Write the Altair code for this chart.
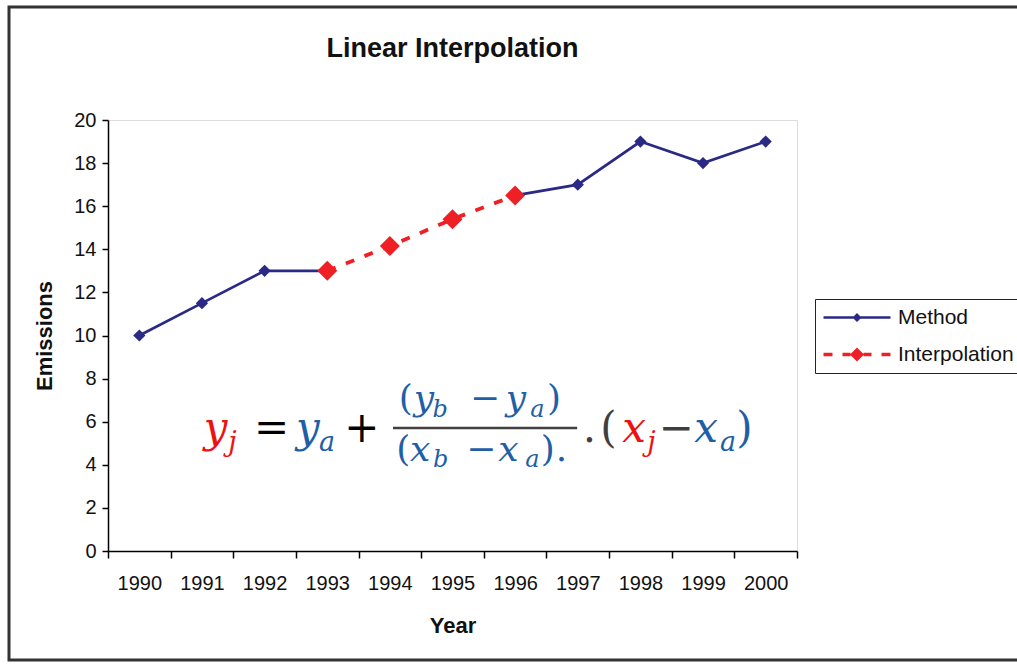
import altair as alt
import pandas as pd

# ---- data -------------------------------------------------------------
years = list(range(1990, 2001))
method_values = [10, 11.5, 13, 13, None, None, 16.5, 17, 19, 18, 19]
method_segment = ["a", "a", "a", "a", None, None, "b", "b", "b", "b", "b"]

interp_years = [1993, 1994, 1995, 1996]
interp_values = [13, 14.15, 15.4, 16.5]

series_names = ["Method", "Interpolation"]
series_colors = ["#2a2a86", "#ee2026"]
y_ticks = list(range(0, 21, 2))

# ---- formula pieces (year / emission units) ---------------------------
RED, BLUE, BLACK, GRAY = "#ee1111", "#1f5fa6", "#000000", "#3f3f3f"
f_text = ["y", "j", "=", "y", "a", "+",
          "(", "y", "b", "\u2212", "y", "a", ")",
          "(", "x", "b", "\u2212", "x", "a", ")", ".",
          ".", "(", "x", "j", "\u2212", "x", "a", ")"]
f_x = [1991.03, 1991.42, 1991.83, 1992.50, 1992.87, 1993.27,
       1994.14, 1994.38, 1994.68, 1995.28, 1995.85, 1996.24, 1996.51,
       1994.10, 1994.32, 1994.69, 1995.22, 1995.73, 1996.16, 1996.41, 1996.65,
       1997.08, 1997.36, 1997.71, 1998.11, 1998.29, 1998.86, 1999.27, 1999.53]
f_y = [5.06, 4.64, 5.06, 5.06, 4.64, 5.06,
       6.54, 6.54, 6.22, 6.54, 6.54, 6.22, 6.54,
       4.18, 4.18, 3.90, 4.18, 4.18, 3.90, 4.18, 4.18,
       5.06, 5.06, 5.06, 4.64, 5.06, 5.06, 4.64, 5.06]
f_size = [42, 27, 42, 42, 27, 42,
          36, 36, 24, 36, 36, 24, 36,
          36, 36, 24, 36, 36, 24, 36, 36,
          42, 42, 42, 27, 42, 42, 27, 42]
f_color = [RED, RED, BLACK, BLUE, BLUE, BLACK,
           BLUE, BLUE, BLUE, BLUE, BLUE, BLUE, BLUE,
           BLUE, BLUE, BLUE, BLUE, BLUE, BLUE, BLUE, BLUE,
           GRAY, GRAY, RED, RED, GRAY, BLUE, BLUE, BLUE]
f_italic = [True, True, False, True, True, False,
            False, True, True, False, True, True, False,
            False, True, True, False, True, True, False, False,
            False, False, True, True, False, True, True, False]
bar_x = [1994.05]
bar_x2 = [1996.99]
bar_y = [5.71]

# ---- frames -----------------------------------------------------------
method_rows = [{"year": yr, "value": v, "seg": s}
               for yr, v, s in zip(years, method_values, method_segment) if v is not None]
method_df = pd.DataFrame(method_rows)
interp_df = pd.DataFrame({"year": interp_years, "value": interp_values})
legend_df = pd.DataFrame({"series": series_names})

formula_df = pd.DataFrame({"t": f_text, "fx": f_x, "fy": f_y, "fs": f_size,
                           "col": f_color, "it": f_italic})
bar_df = pd.DataFrame({"x": bar_x, "x2": bar_x2, "y": bar_y})

PLOT_W, PLOT_H = 689, 431
band = PLOT_W / 11

xscale = alt.Scale(domain=[1989.5, 2000.5], nice=False, zero=False)
yscale = alt.Scale(domain=[0, 20], nice=False, zero=True)

FONT = "Liberation Sans"

x_axis = alt.Axis(
    values=[1989.5 + i for i in range(12)],
    labelExpr="datum.value < 2000 ? format(datum.value + 0.5, 'd') : ''",
    labelOffset=band / 2, labelFlush=False, labelOverlap=False, labelBound=False,
    labelFont=FONT, labelFontSize=20, labelColor="#111111", labelPadding=15,
    tickSize=7, tickColor="black", tickWidth=1.5,
    domainColor="black", domainWidth=1.5, grid=False,
    title="Year", titleFont=FONT, titleFontSize=22, titleFontWeight="bold",
    titleColor="#111111", titlePadding=22,
)
y_axis = alt.Axis(
    values=y_ticks, labelFont=FONT, labelFontSize=20, labelColor="#111111",
    labelPadding=6, tickSize=6, tickColor="black", tickWidth=1.5,
    domainColor="black", domainWidth=1.5, grid=False,
    title="Emissions", titleFont=FONT, titleFontSize=22, titleFontWeight="bold",
    titleColor="#111111", titlePadding=17,
)

# legend symbols: a short line (solid or dashed) with a diamond in the middle
PATH_METHOD = ("M-1,-0.13H5.7V0.13H-1Z "
               "M2.35,-0.45L2.8,0L2.35,0.45L1.9,0Z")
PATH_INTERP = ("M-1,-0.17H-0.1V0.17H-1Z M0.9,-0.17H1.7V0.17H0.9Z "
               "M3,-0.17H3.8V0.17H3Z M4.8,-0.17H5.7V0.17H4.8Z "
               "M2.35,-0.7L3.05,0L2.35,0.7L1.65,0Z")

legend = alt.Legend(
    title=None, orient="none", legendX=707, legendY=179,
    symbolSize=400, symbolStrokeWidth=0,
    labelFont=FONT, labelFontSize=21, labelColor="#111111", labelOffset=54,
    rowPadding=15, padding=8, strokeColor="#222222", fillColor="white",
)

frame = alt.Chart(pd.DataFrame({"k": [0]})).mark_rect(
    fillOpacity=0, stroke="#333333", strokeWidth=3
).encode(x=alt.value(-99), x2=alt.value(930), y=alt.value(-113), y2=alt.value(540))

method_line = alt.Chart(method_df).mark_line(color=series_colors[0], strokeWidth=2.7).encode(
    x=alt.X("year:Q", scale=xscale, axis=x_axis),
    y=alt.Y("value:Q", scale=yscale, axis=y_axis),
    detail="seg:N",
)
interp_line = alt.Chart(interp_df).mark_line(
    color=series_colors[1], strokeWidth=3.8, strokeDash=[9, 11]
).encode(x=alt.X("year:Q", scale=xscale), y=alt.Y("value:Q", scale=yscale))

pts_method = alt.Chart(method_df).mark_point(
    shape="diamond", filled=True, size=150, opacity=1, color=series_colors[0]
).encode(x=alt.X("year:Q", scale=xscale), y=alt.Y("value:Q", scale=yscale))

pts_interp = alt.Chart(interp_df).mark_point(
    shape="diamond", filled=True, size=400, opacity=1, color=series_colors[1]
).encode(x=alt.X("year:Q", scale=xscale), y=alt.Y("value:Q", scale=yscale))

# carries the legend only: all rows are filtered out, the scales keep their domains
legend_layer = alt.Chart(legend_df).transform_filter("false").mark_point(
    filled=True, opacity=1
).encode(
    x=alt.X("k:Q", scale=xscale), y=alt.Y("k:Q", scale=yscale),
    color=alt.Color("series:N", scale=alt.Scale(domain=series_names, range=series_colors),
                    legend=legend),
    shape=alt.Shape("series:N", scale=alt.Scale(domain=series_names,
                                                range=[PATH_METHOD, PATH_INTERP]),
                    legend=legend),
)


def formula_layer(italic):
    return alt.Chart(formula_df).transform_filter(
        alt.datum.it if italic else ~alt.datum.it
    ).mark_text(
        align="left", baseline="alphabetic", font="DejaVu Serif",
        fontStyle="italic" if italic else "normal",
    ).encode(
        x=alt.X("fx:Q", scale=xscale), y=alt.Y("fy:Q", scale=yscale),
        text="t:N", size=alt.Size("fs:Q", scale=None),
        color=alt.Color("col:N", scale=None),
    )


frac_bar = alt.Chart(bar_df).mark_rule(color="#404040", strokeWidth=2.5).encode(
    x=alt.X("x:Q", scale=xscale), x2="x2:Q", y=alt.Y("y:Q", scale=yscale)
)

chart = alt.layer(
    frame, method_line, interp_line, pts_method, pts_interp, legend_layer,
    formula_layer(True), formula_layer(False), frac_bar,
).properties(
    width=PLOT_W, height=PLOT_H,
    title=alt.TitleParams("Linear Interpolation", font=FONT, fontSize=27,
                          fontWeight="bold", color="#111111", anchor="middle",
                          frame="group", baseline="alphabetic", offset=-78),
    autosize=alt.AutoSizeParams(type="none"),
    padding={"left": 108, "top": 120, "right": 1017 - 108 - PLOT_W,
             "bottom": 664 - 120 - PLOT_H},
).configure_view(stroke="#9a9a9a", strokeWidth=1.5).configure(background="white")

chart.save("out.html", embed_options={"renderer": "svg", "actions": False})
